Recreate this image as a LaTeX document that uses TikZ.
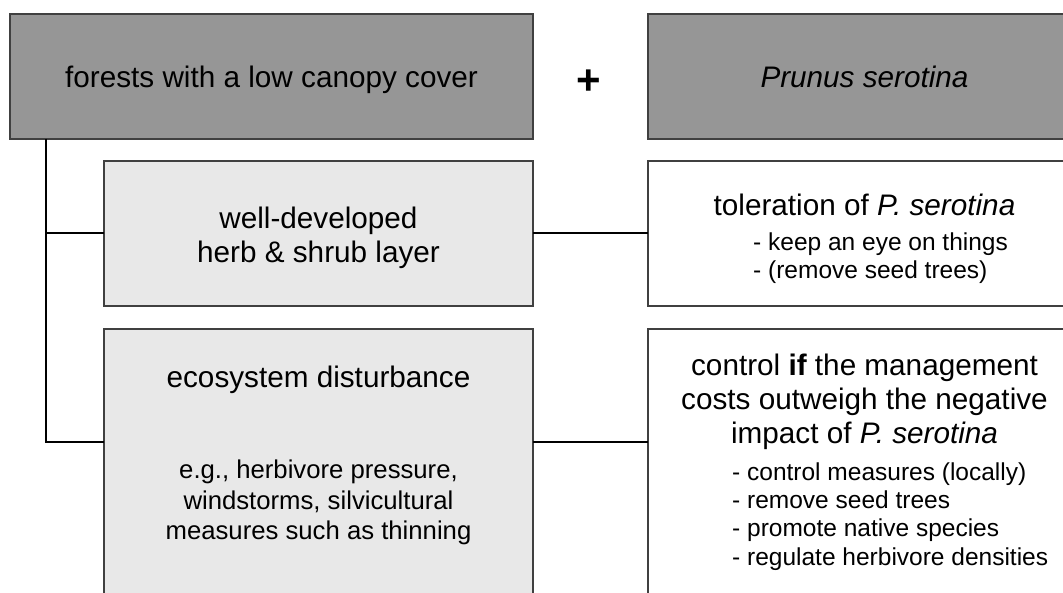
\documentclass[tikz,border=0pt]{standalone}
\usepackage{fontspec}
\setmainfont{Liberation Sans}
\definecolor{topfill}{HTML}{969696}
\definecolor{midfill}{HTML}{E8E8E8}
\definecolor{edgegray}{HTML}{404040}
\tikzset{
 box/.style={draw=edgegray, line width=1.3pt, inner sep=0pt, outer sep=0pt},
 topbox/.style={box, fill=topfill, text height=29pt, text depth=6.2pt},
 greybox/.style={box, fill=midfill},
 whitebox/.style={box, fill=white},
 conn/.style={draw=black, line width=2pt},
 head/.style={font=\fontsize{29.7}{34}\selectfont, align=center, inner sep=0pt},
 bullets/.style={font=\fontsize{24.5}{28.3}\selectfont, align=left, inner sep=0pt, anchor=west},
 note/.style={font=\fontsize{25.7}{30.5}\selectfont, align=center, inner sep=0pt},
}
\begin{document}
\begin{tikzpicture}[x=1pt,y=-1pt]
\useasboundingbox (0,0) rectangle (1063,593);
\clip (0,0) rectangle (1063,593);
\node[topbox, minimum width=523pt, minimum height=125pt, head] (tl) at (271.5,76.5) {forests with a low canopy cover};
\node[topbox, minimum width=433pt, minimum height=125pt, head] (tr) at (864.5,76.5) {\itshape Prunus serotina};
\node[font=\fontsize{42}{42}\selectfont\bfseries, inner sep=0pt] (plus) at (589,82) {+};
\node[greybox, minimum width=429pt, minimum height=145pt] (ml) at (318.5,233.5) {};
\node[head] (mltext) at (318.5,238) {well-developed\\herb \& shrub layer};
\node[whitebox, minimum width=433pt, minimum height=145pt] (mr) at (864.5,233.5) {};
\node[head] (mrhead) at (864.5,204.5) {toleration of \textit{P. serotina}};
\node[bullets] (mrlist) at (753,258.5) {- keep an eye on things\\- (remove seed trees)};
\node[greybox, minimum width=429pt, minimum height=300pt] (bl) at (318.5,479) {};
\node[head] (blhead) at (318.5,380) {ecosystem disturbance};
\node[note] (blnote) at (318.5,502.5) {e.g., herbivore pressure,\\windstorms, silvicultural\\measures such as thinning};
\node[whitebox, minimum width=433pt, minimum height=300pt] (br) at (864.5,479) {};
\node[head] (brhead) at (864.5,401.5) {control \textbf{if} the management\\costs outweigh the negative\\impact of \textit{P. serotina}};
\node[bullets] (brlist) at (732,516.5) {- control measures (locally)\\- remove seed trees\\- promote native species\\- regulate herbivore densities};
\coordinate (trunk) at ([xshift=36pt]tl.south west);
\coordinate (lowy) at ([yshift=-113pt]bl.north west);
\draw[conn] (trunk) |- (lowy);
\draw[conn] (trunk |- ml.west) -- (ml.west);
\draw[conn] (ml.east) -- (mr.west);
\draw[conn] (lowy -| bl.east) -- (lowy -| br.west);
\end{tikzpicture}
\end{document}
